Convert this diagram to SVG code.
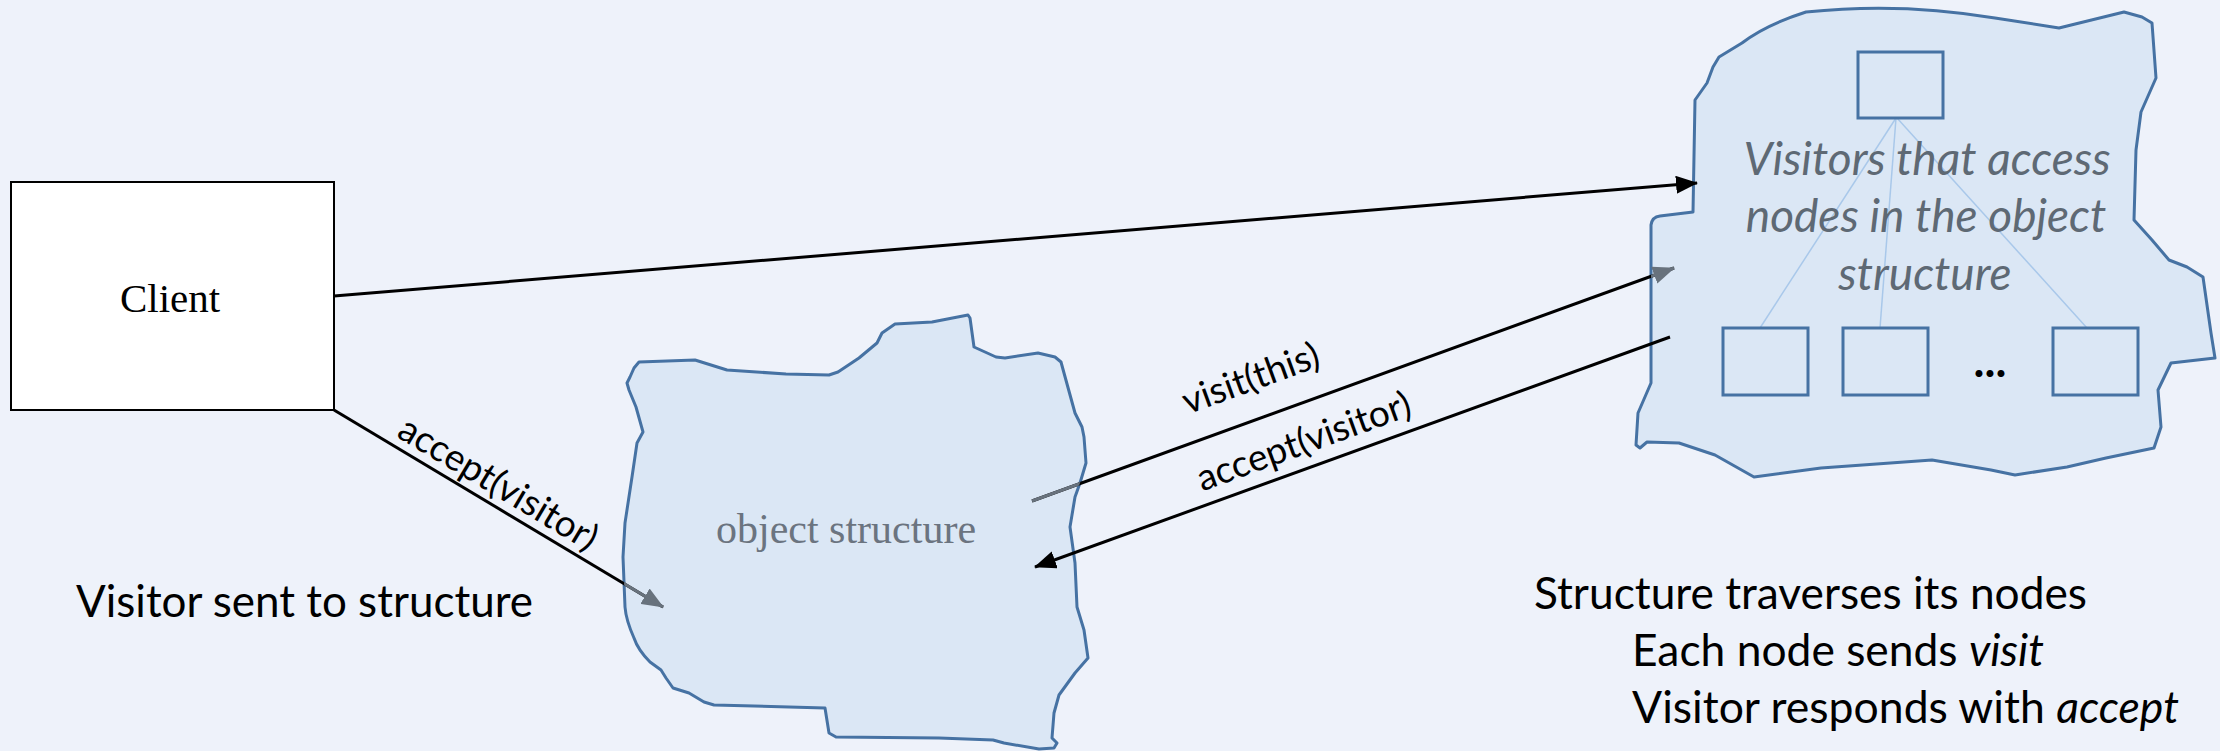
<svg xmlns="http://www.w3.org/2000/svg" xmlns:xlink="http://www.w3.org/1999/xlink" width="2220" height="751" viewBox="0 0 2220 751">
<style>
.blob{fill:#dbe7f5;stroke:#4672a3;stroke-width:3;stroke-linejoin:round}
.box{fill:none;stroke:#4672a3;stroke-width:3}
.tree{stroke:#a9c8ea;stroke-width:1.5;fill:none}
.conn{stroke:#000;stroke-width:3;fill:none}
.dim{stroke:#68727d;stroke-width:3;fill:none}
.sans{font-family:Lato,"Open Sans","Liberation Sans",sans-serif}
.serif{font-family:"Liberation Serif","Times New Roman",serif}
.lbl{font-family:Lato,"Open Sans","Liberation Sans",sans-serif;font-size:37px;fill:#000}
.big{font-family:Lato,"Open Sans","Liberation Sans",sans-serif;font-size:44px;fill:#000}
</style>
<defs>
<path id="objPath" d="M639,362 L695,360 L727,370 L786,374 L829,375 L838,372 L859,358 L877,343 L882,333 L895,324 L932,322 L968,315 L970,318 L974,347 L996,357 L1005,358 L1038,353 L1055,357 L1061,362 L1064,373 L1075,413 L1082,427 L1084,437 L1086,463 L1080,483 L1075,497 L1070,527 L1075,563 L1077,607 L1084,630 L1088,658 L1075,673 L1059,695 L1054,713 L1052,738 L1057,743 L1054,748 L1039,749 L1004,743 L993,740 L939,738 L836,737 L829,733 L825,708 L714,705 L704,702 L689,693 L673,688 L666,678 L661,670 L650,662 Q638,650 634,638 Q626,620 625,607 L623,557 L625,523 L632,477 L637,443 L643,432 L636,407 L629,390 L627,383 L630,377 L634,368 Z"/>
<path id="visPath" d="M1693,212 L1695,100 L1707,83 L1713,67 L1719,57 L1742,43 Q1765,25 1806,12 Q1900,2 1995,18 L2059,28 L2124,12 L2142,17 L2152,23 L2156,78 L2141,112 L2136,150 L2134,220 L2152,240 L2169,260 L2187,267 L2203,277 L2211,333 L2215,358 L2171,363 L2158,390 L2161,427 L2154,448 L2106,458 L2067,467 L2015,475 L1991,470 L1932,460 L1821,468 L1754,477 L1715,455 L1679,443 L1647,442 L1640,448 L1636,445 L1638,413 L1651,383 L1651,225 Q1652,217 1660,216 L1693,212 Z"/>
<clipPath id="blobClip"><use xlink:href="#objPath"/><use xlink:href="#visPath"/></clipPath>
<marker id="ahBlack" markerUnits="userSpaceOnUse" markerWidth="22" markerHeight="18" viewBox="0 0 22 18" refX="21" refY="9" orient="auto"><path d="M0,0 L22,9 L0,18 Z" fill="#000"/></marker>
<marker id="ahGray" markerUnits="userSpaceOnUse" markerWidth="22" markerHeight="18" viewBox="0 0 22 18" refX="21" refY="9" orient="auto"><path d="M0,0 L22,9 L0,18 Z" fill="#68727d"/></marker>
</defs>
<rect x="0" y="0" width="2220" height="751" fill="#eef2fa"/>

<g id="client">
<rect x="11" y="182" width="323" height="228" fill="#fff" stroke="#000" stroke-width="2"/>
<text class="serif" x="170" y="312" font-size="41" text-anchor="middle" fill="#000">Client</text>
</g>

<g id="object-structure">
<use xlink:href="#objPath" class="blob"/>
<text class="serif" x="846" y="543" font-size="42" text-anchor="middle" fill="#6b7480">object structure</text>
</g>

<g id="visitors">
<use xlink:href="#visPath" class="blob"/>
<g class="tree">
<line x1="1896" y1="118" x2="1760" y2="328"/>
<line x1="1896" y1="118" x2="1880" y2="328"/>
<line x1="1897" y1="118" x2="2087" y2="328"/>
</g>
<rect class="box" x="1858" y="52" width="85" height="66"/>
<rect class="box" x="1723" y="328" width="85" height="67"/>
<rect class="box" x="1843" y="328" width="85" height="67"/>
<rect class="box" x="2053" y="328" width="85" height="67"/>
<text class="sans" x="1990" y="377" font-size="46" font-weight="bold" text-anchor="middle" fill="#000">...</text>
<g class="sans" font-size="46" font-style="italic" fill="#5e6974" text-anchor="middle">
<text x="1927" y="175">Visitors that access</text>
<text x="1926" y="232">nodes in the object</text>
<text x="1925" y="290">structure</text>
</g>
</g>

<g id="connectors">
<line class="conn" x1="334" y1="296" x2="1697" y2="183" marker-end="url(#ahBlack)"/>
<line class="conn" x1="334" y1="410" x2="663" y2="607" marker-end="url(#ahGray)"/>
<line class="dim" x1="334" y1="410" x2="663" y2="607" clip-path="url(#blobClip)"/>
<line class="conn" x1="1032" y1="501" x2="1674" y2="268" marker-end="url(#ahGray)"/>
<line class="dim" x1="1032" y1="501" x2="1674" y2="268" clip-path="url(#blobClip)"/>
<line class="conn" x1="1670" y1="337" x2="1035" y2="567" marker-end="url(#ahBlack)"/>
<text class="lbl" text-anchor="middle" transform="translate(492,494) rotate(30.9)">accept(visitor)</text>
<text class="lbl" text-anchor="middle" transform="translate(1255,390) rotate(-20)">visit(this)</text>
<text class="lbl" text-anchor="middle" transform="translate(1308,453) rotate(-20)">accept(visitor)</text>
</g>

<g id="captions">
<text class="big" x="76" y="617" textLength="457" lengthAdjust="spacingAndGlyphs">Visitor sent to structure</text>
<text class="big" x="1534" y="609" textLength="553" lengthAdjust="spacingAndGlyphs">Structure traverses its nodes</text>
<text class="big" x="1632" y="666" textLength="412" lengthAdjust="spacingAndGlyphs">Each node sends <tspan font-style="italic">visit</tspan></text>
<text class="big" x="1632" y="723" textLength="547" lengthAdjust="spacingAndGlyphs">Visitor responds with <tspan font-style="italic">accept</tspan></text>
</g>
</svg>
